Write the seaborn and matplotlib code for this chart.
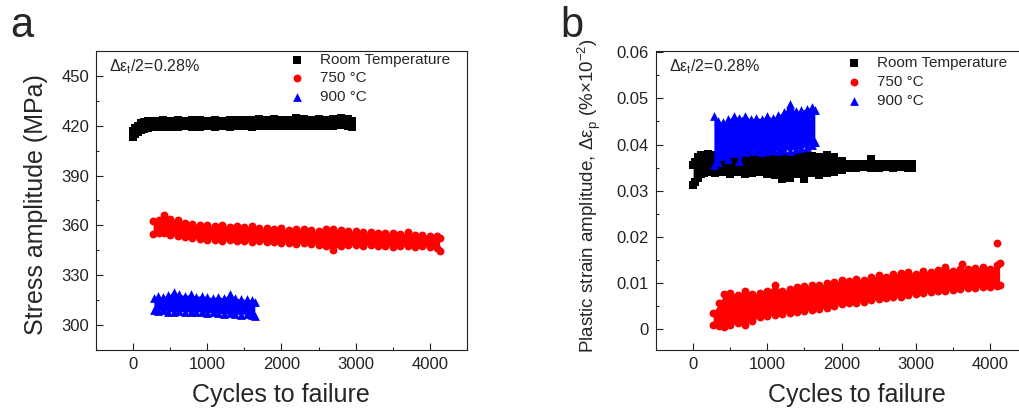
import numpy as np
import pandas as pd
import seaborn as sns
import matplotlib.pyplot as plt
from matplotlib.ticker import MultipleLocator, FuncFormatter

sns.set_theme(style="ticks")
plt.rcParams["font.family"] = ["Liberation Sans", "DejaVu Sans"]
plt.rcParams["mathtext.fontset"] = "custom"
plt.rcParams["mathtext.rm"] = "Liberation Sans"
plt.rcParams["axes.linewidth"] = 0.8

# cycles at which the band edges were read (shared by both panels)
cyc_rt = [0, 30, 60, 100, 150, 200, 300, 400, 500, 600, 700, 800, 900, 1000,
          1100, 1200, 1300, 1400, 1500, 1600, 1700, 1800, 1900, 2000, 2100,
          2200, 2300, 2400, 2500, 2600, 2700, 2800, 2900, 2950]
cyc_750 = [270, 350, 420, 500, 600, 700, 800, 900, 1000, 1100, 1200, 1300,
           1400, 1500, 1600, 1700, 1800, 1900, 2000, 2100, 2200, 2300, 2400,
           2500, 2600, 2700, 2800, 2900, 3000, 3100, 3200, 3300, 3400, 3500,
           3600, 3700, 3800, 3900, 4000, 4100, 4130]
cyc_900 = [280, 330, 400, 470, 550, 620, 700, 780, 850, 930, 1000, 1080,
           1150, 1230, 1300, 1380, 1450, 1530, 1600, 1640]

# panel a: stress amplitude (MPa), upper / lower edge of the scatter cloud
a_rt_hi = [417, 418.5, 420, 421.5, 422.2, 422.6, 423, 423.2, 422.8, 423.4, 423,
           423.2, 423.5, 423, 423.4, 423.1, 423.6, 423.2, 423.5, 423.3, 423.8,
           423.4, 424.2, 423.5, 423.7, 424.5, 424.3, 423.6, 423.8, 423.5,
           424.3, 424.5, 423.8, 423]
a_rt_lo = [413.5, 415, 416.5, 417.5, 418.2, 418.6, 419, 419.3, 419.4, 419.2,
           419.6, 419.4, 419.3, 419.7, 419.5, 419.8, 419.3, 419.6, 419.8, 419.5,
           420, 419.6, 419.8, 420, 419.7, 420.1, 419.8, 420, 419.6, 420, 419.8,
           420.2, 419.9, 419.4]
a_750_hi = [362.5, 363.5, 366.5, 364, 363.5, 361.5, 361, 360.5, 360, 359.5, 360,
            359.2, 359.5, 359, 359.4, 358.6, 358.2, 357.8, 358.2, 357.5, 357.8,
            357.6, 357.2, 356.4, 357.8, 358, 357.2, 356.5, 356.8, 356.2, 355.8,
            355.5, 355.2, 355.4, 354.8, 355.8, 354.5, 354.2, 353.8, 353.4, 352.5]
a_750_lo = [355, 355.2, 355.5, 354.5, 353.5, 353, 352.5, 351.8, 351.2, 351.5,
            350.8, 351, 350.5, 350.8, 350.2, 350.5, 349.8, 350, 349.2, 349.5,
            349, 349.3, 348.8, 348.5, 347.8, 345.5, 347.8, 348.2, 348, 347.8,
            348.2, 347.5, 347.8, 347.2, 347.5, 347.4, 347, 347.5, 347, 346.5,
            344.5]
a_900_hi = [316.5, 317.5, 317, 318, 320, 318.5, 317.8, 318.5, 317.2, 317.8, 317,
            316.5, 317, 316.3, 318.8, 316.2, 315.8, 315.5, 315.2, 314]
a_900_lo = [309, 308.5, 308.8, 308, 307.8, 308.2, 308, 307.6, 308, 307.8, 307.4,
            307.6, 307.2, 306.4, 307, 306.8, 306.2, 306.8, 306, 305.5]

# panel b: plastic strain amplitude
b_rt_hi = [0.0355, 0.0362, 0.0372, 0.0378, 0.0376, 0.0379, 0.0377, 0.0378,
           0.0374, 0.0376, 0.0377, 0.0373, 0.0376, 0.0378, 0.0375, 0.0377,
           0.0374, 0.0376, 0.0378, 0.0375, 0.0374, 0.0377, 0.0372, 0.0364,
           0.0358, 0.0358, 0.0358, 0.0369, 0.0358, 0.0358, 0.0358, 0.0358,
           0.0358, 0.0358]
b_rt_lo = [0.0312, 0.0318, 0.0328, 0.0336, 0.0338, 0.034, 0.0338, 0.0341,
           0.0337, 0.034, 0.0336, 0.0339, 0.0341, 0.0337, 0.0334, 0.0325,
           0.0327, 0.0335, 0.0326, 0.0338, 0.0334, 0.0339, 0.0341, 0.0345,
           0.035, 0.035, 0.0351, 0.035, 0.035, 0.0351, 0.035, 0.0351, 0.035,
           0.035]
b_750_hi = [0.0035, 0.0055, 0.0075, 0.0078, 0.0074, 0.0083, 0.0076, 0.0078,
            0.0082, 0.0094, 0.0082, 0.0086, 0.009, 0.0092, 0.0096, 0.0094,
            0.0099, 0.0101, 0.0105, 0.0103, 0.0108, 0.0106, 0.0112, 0.0116,
            0.0113, 0.0118, 0.0121, 0.0123, 0.012, 0.0126, 0.0124, 0.0128,
            0.0134, 0.0126, 0.013, 0.0129, 0.0131, 0.0135, 0.013, 0.0138,
            0.0142]
b_750_lo = [0.0008, 0.0005, 0.0004, 0.0008, 0.0012, 0.0009, 0.0018, 0.0025,
            0.0028, 0.0031, 0.0033, 0.0035, 0.0036, 0.0039, 0.0041, 0.0043,
            0.0046, 0.005, 0.0053, 0.0055, 0.0057, 0.0059, 0.0062, 0.0064,
            0.0066, 0.0068, 0.007, 0.0073, 0.0075, 0.0077, 0.0079, 0.0081,
            0.0082, 0.0084, 0.0086, 0.0088, 0.0089, 0.0091, 0.0091, 0.0093,
            0.0096]
b_750_out_cyc = [3620, 4100]
b_750_out = [0.0141, 0.0187]
b_900_hi = [0.0462, 0.0452, 0.0448, 0.0455, 0.0461, 0.0458, 0.0462, 0.0455,
            0.0458, 0.0456, 0.0462, 0.0457, 0.0465, 0.047, 0.0488, 0.0472,
            0.0474, 0.0478, 0.0481, 0.0476]
b_900_lo = [0.0355, 0.0362, 0.0375, 0.0368, 0.0382, 0.0365, 0.0384, 0.0386,
            0.0385, 0.0383, 0.0386, 0.0388, 0.0385, 0.0389, 0.0387, 0.039,
            0.0392, 0.0395, 0.0398, 0.0405]

labels = ["Room Temperature", "750 \u00b0C", "900 \u00b0C"]
colors = ["#000000", "#ff0000", "#0000ff"]
markers = ["s", "o", "^"]
sizes = [30, 32, 40]


def draw(ax, cyc, hi, lo, i, out_c=(), out_v=()):
    ax.fill_between(cyc, lo, hi, color=colors[i], lw=0, zorder=2)
    df = pd.DataFrame({"cycles": list(cyc) * 2 + list(out_c),
                       "value": list(hi) + list(lo) + list(out_v)})
    sns.scatterplot(data=df, x="cycles", y="value", color=colors[i],
                    marker=markers[i], s=sizes[i], linewidth=0,
                    label=labels[i], ax=ax, zorder=2)


fig = plt.figure(figsize=(10.19, 4.12), dpi=100)
ax1 = fig.add_axes([0.0942, 0.1505, 0.3641, 0.7257])
ax2 = fig.add_axes([0.6438, 0.1505, 0.3641, 0.7257])

draw(ax1, cyc_rt, a_rt_hi, a_rt_lo, 0)
draw(ax1, cyc_750, a_750_hi, a_750_lo, 1)
draw(ax1, cyc_900, a_900_hi, a_900_lo, 2)

draw(ax2, cyc_rt, b_rt_hi, b_rt_lo, 0)
draw(ax2, cyc_750, b_750_hi, b_750_lo, 1, b_750_out_cyc, b_750_out)
draw(ax2, cyc_900, b_900_hi, b_900_lo, 2)

ax1.set_xlim(-500, 4500)
ax1.set_ylim(285, 465)
ax1.yaxis.set_major_locator(MultipleLocator(30))
ax1.yaxis.set_minor_locator(MultipleLocator(15))

ax2.set_xlim(-500, 4500)
ax2.set_ylim(-0.0046, 0.0603)
ax2.yaxis.set_major_locator(MultipleLocator(0.01))
ax2.yaxis.set_minor_locator(MultipleLocator(0.005))
ax2.yaxis.set_major_formatter(FuncFormatter(lambda v, p: "0" if abs(v) < 1e-9 else f"{v:.2f}"))

for ax in (ax1, ax2):
    ax.xaxis.set_major_locator(MultipleLocator(1000))
    ax.xaxis.set_minor_locator(MultipleLocator(500))
    ax.tick_params(which="major", direction="in", length=5, width=0.8,
                   labelsize=12, colors="#222222", pad=5)
    ax.tick_params(which="minor", direction="in", length=2.5, width=0.8)
    for sp in ax.spines.values():
        sp.set_color("#222222")
    ax.set_xlabel("Cycles to failure", fontsize=18)
    ax.text(0.035, 0.947, "\u0394\u03b5$_\\mathregular{t}$/2=0.28%",
            transform=ax.transAxes, fontsize=11.5, va="center", ha="left")

ax1.set_ylabel("Stress amplitude (MPa)", fontsize=18)
ax1.yaxis.set_label_coords(-0.13, 0.487)
ax1.xaxis.set_label_coords(0.498, -0.112)
ax2.set_ylabel("Plastic strain amplitude, \u0394\u03b5$_\\mathregular{p}$ (%\u00d710$^\\mathregular{-2}$)",
               fontsize=13.5)
ax2.yaxis.set_label_coords(-0.142, 0.515)
ax2.xaxis.set_label_coords(0.541, -0.112)

ax1.legend(loc="upper left", bbox_to_anchor=(0.5175, 1.0), frameon=False,
           fontsize=11, handlelength=1.0, handletextpad=0.97,
           labelspacing=0.32, borderpad=0.1, borderaxespad=0)
ax2.legend(loc="upper left", bbox_to_anchor=(0.509, 0.987), frameon=False,
           fontsize=11, handlelength=1.0, handletextpad=0.97,
           labelspacing=0.32, borderpad=0.1, borderaxespad=0)

fig.text(10 / 1019, 1 - 37 / 412, "a", fontsize=30, va="baseline", ha="left")
fig.text(560 / 1019, 1 - 37 / 412, "b", fontsize=30, va="baseline", ha="left")

fig.savefig("out.png", dpi=100)
